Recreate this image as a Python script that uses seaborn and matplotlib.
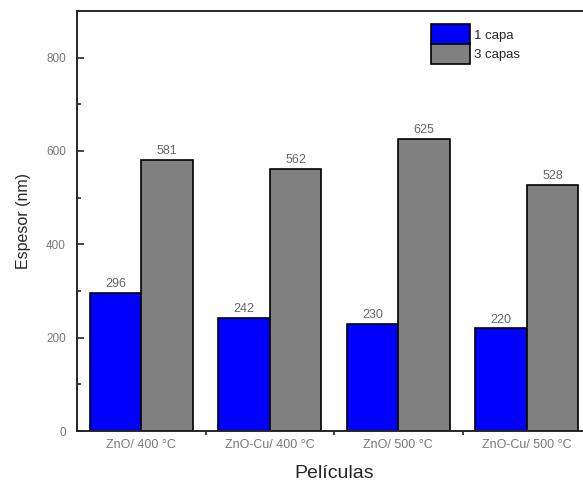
import matplotlib

matplotlib.use("Agg")
import matplotlib.pyplot as plt
import pandas as pd
import seaborn as sns
from matplotlib.patches import Patch
from matplotlib.ticker import FixedLocator, MultipleLocator

peliculas = ["ZnO/ 400 °C", "ZnO-Cu/ 400 °C", "ZnO/ 500 °C", "ZnO-Cu/ 500 °C"]
una_capa = [296, 242, 230, 220]
tres_capas = [581, 562, 625, 528]
series = ["1 capa", "3 capas"]
colores = ["#0000ff", "#808080"]

df = pd.DataFrame({
    "pelicula": peliculas * 2,
    "capas": [series[0]] * 4 + [series[1]] * 4,
    "espesor": una_capa + tres_capas,
})

sns.set_style("ticks")
plt.rcParams["font.family"] = ["Liberation Sans", "DejaVu Sans"]

fig = plt.figure(figsize=(5.83, 4.84), dpi=100)
ax = fig.add_axes([0.132, 0.1095, 0.882, 0.868])

sns.barplot(data=df, x="pelicula", y="espesor", hue="capas", order=peliculas,
            hue_order=series, palette=colores, width=0.8, saturation=1,
            edgecolor="black", linewidth=1.2, ax=ax, legend=False)

for cont in ax.containers:
    ax.bar_label(cont, fmt="%d", padding=2, fontsize=9, color="#666666")

ax.set_xlim(-0.5, 3.5)
ax.set_ylim(0, 900)
ax.yaxis.set_major_locator(FixedLocator([0, 200, 400, 600, 800]))
ax.yaxis.set_minor_locator(MultipleLocator(100))
ax.tick_params(axis="y", which="major", direction="in", length=5, width=1.2,
               labelsize=8.5, labelcolor="#777777", pad=8)
ax.tick_params(axis="y", which="minor", direction="in", length=3, width=1.2)
# category ticks sit between the groups, labels at the group centres
ax.xaxis.set_minor_locator(FixedLocator([0.5, 1.5, 2.5]))
ax.tick_params(axis="x", which="major", length=0, labelsize=9,
               labelcolor="#777777", pad=6)
ax.tick_params(axis="x", which="minor", direction="out", length=3, width=1.2)
for s in ax.spines.values():
    s.set_linewidth(1.4)

ax.set_xlabel("Películas", fontsize=14, labelpad=10)
ax.set_ylabel("Espesor (nm)", fontsize=11.5, labelpad=11)

handles = [Patch(facecolor=c, edgecolor="black", linewidth=1.2) for c in colores]
ax.legend(handles, series, loc="upper left", bbox_to_anchor=(0.67, 0.99),
          frameon=False, fontsize=9.5, handlelength=3.0, handleheight=1.95,
          labelspacing=0.0, handletextpad=0.3, borderpad=0.2)

fig.savefig("out.png", dpi=100)
